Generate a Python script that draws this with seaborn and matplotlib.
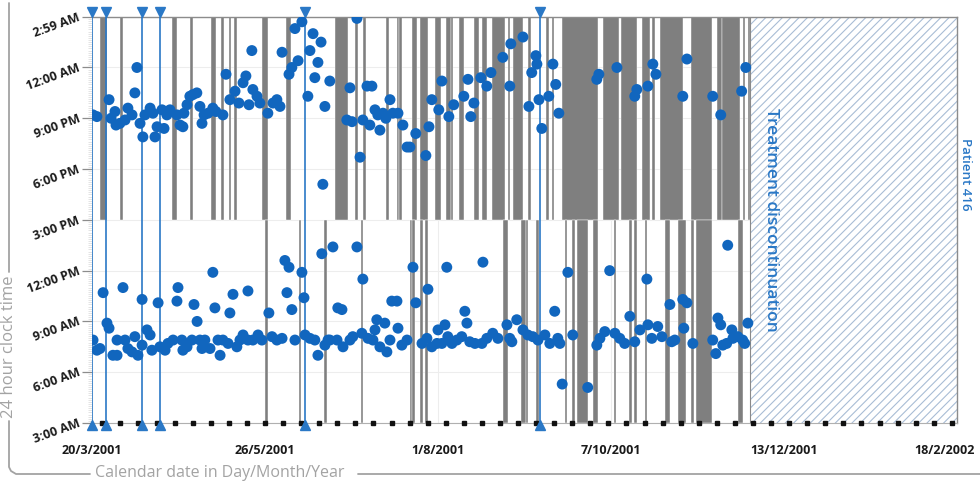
import numpy as np
import pandas as pd
import matplotlib
matplotlib.use("Agg")
import matplotlib.pyplot as plt
import seaborn as sns
from matplotlib.lines import Line2D
from matplotlib.patches import Rectangle
from matplotlib.ticker import MultipleLocator
from matplotlib.transforms import ScaledTranslation

# ---------------- data ----------------
date_ticks = [0, 67, 134, 201, 268, 335]
date_labels = ["20/3/2001", "26/5/2001", "1/8/2001", "7/10/2001", "13/12/2001", "18/2/2002"]
time_ticks = [3, 6, 9, 12, 15, 18, 21, 24, 26.983]
time_labels = ["3:00 AM", "6:00 AM", "9:00 AM", "12:00 PM", "3:00 PM",
               "6:00 PM", "9:00 PM", "12:00 AM", "2:59 AM"]

morning_day = [0.4, 1.9, 3.1, 4.3, 5.8, 6.6, 8.1, 9.7, 9.7, 12.0,
               12.8, 13.9, 15.5, 16.6, 17.8, 19.4, 19.4, 21.3, 22.5, 23.2,
               25.6, 26.3, 28.3, 29.4, 31.4, 32.9, 33.3, 34.8, 35.2, 36.8,
               38.7, 39.5, 40.7, 41.8, 42.6, 43.7, 45.7, 46.8, 47.6, 48.8,
               49.6, 50.7, 52.7, 53.4, 54.6, 56.1, 57.3, 58.5, 60.4, 60.4,
               62.3, 64.3, 65.8, 68.5, 69.7, 71.6, 73.6, 74.7, 75.5, 76.3,
               77.4, 78.6, 81.3, 82.1, 82.5, 84.4, 86.3, 87.5, 89.0, 90.2, 91.4,
               92.1, 93.3, 94.9, 95.2, 96.8, 97.2, 99.9, 101.0, 102.6, 104.5,
               104.9, 106.9, 108.8, 110.3, 109.6, 111.5, 113.4, 114.2, 115.4, 116.1,
               118.1, 118.5, 120.0, 122.0, 124.3, 125.4, 127.8, 129.7, 130.1, 131.6,
               133.6, 134.0, 135.5, 136.7, 137.4, 137.8, 139.4, 141.3, 143.2, 144.4,
               145.2, 146.3, 148.3, 151.0, 151.4, 152.9, 155.2, 157.2, 160.7, 161.8,
               162.6, 164.5, 166.9, 168.8, 170.7, 172.7, 175.4, 177.3, 179.2, 180.4,
               181.2, 182.1, 184.3, 186.2, 192.0, 195.5, 196.7, 198.6, 200.5, 202.5,
               204.4, 206.3, 208.3, 210.2, 212.2, 214.9, 215.3, 216.8, 219.1, 220.7,
               223.8, 224.5, 225.7, 228.8, 229.2, 230.4, 232.7, 240.4, 241.6, 242.4,
               243.5, 244.3, 245.8, 246.2, 247.8, 248.2, 250.1, 252.0, 252.8, 254.0]
morning_time = [7.9, 7.3, 7.4, 10.7, 8.9, 8.6, 7.0, 7.0, 7.9, 11.0,
                7.9, 7.4, 7.2, 8.1, 7.0, 10.3, 7.6, 8.5, 8.2, 7.3,
                10.1, 7.5, 7.3, 7.7, 7.9, 10.2, 11.0, 7.9, 7.3, 7.5,
                7.9, 10.0, 9.0, 7.9, 7.4, 7.9, 7.4, 11.9, 9.8, 7.9,
                7.0, 7.9, 7.7, 9.5, 10.6, 7.5, 7.9, 8.2, 10.8, 7.9,
                7.9, 8.2, 7.9, 9.5, 8.1, 7.9, 8.0, 12.6, 10.7, 12.2,
                9.7, 7.9, 11.9, 10.4, 8.2, 8.0, 7.9, 7.0, 13.0, 7.6, 7.9,
                7.9, 13.4, 7.9, 9.8, 9.7, 7.5, 7.9, 8.1, 13.4, 8.3,
                11.5, 8.0, 7.9, 9.1, 8.5, 7.5, 8.9, 7.2, 7.9, 10.2,
                10.2, 8.6, 7.6, 7.9, 12.2, 10.1, 7.7, 8.0, 10.9, 7.5,
                7.7, 8.5, 7.7, 8.8, 12.2, 8.1, 7.7, 7.9, 8.1, 9.6,
                8.9, 7.8, 7.7, 7.7, 12.5, 8.0, 8.3, 8.0, 8.8, 8.0,
                7.8, 9.1, 8.5, 8.2, 8.1, 7.9, 8.2, 7.7, 9.6, 8.0,
                7.7, 5.3, 11.9, 8.2, 5.1, 7.6, 8.0, 8.4, 12.0, 8.3,
                8.0, 7.7, 9.3, 7.8, 8.5, 11.5, 8.8, 8.0, 8.7, 8.1,
                10.0, 7.8, 7.9, 10.3, 8.6, 10.1, 7.7, 7.9, 7.1, 9.2,
                8.8, 7.6, 7.7, 13.5, 8.5, 8.0, 8.1, 7.9, 7.7, 8.9]

evening_day = [0.4, 1.9, 6.6, 7.4, 8.9, 9.3, 10.8, 12.8, 13.9, 15.5,
               16.6, 17.4, 18.6, 19.7, 20.5, 22.5, 23.6, 24.4, 25.2, 27.1,
               27.9, 29.0, 30.2, 32.9, 34.1, 35.2, 35.6, 36.8, 37.9, 39.1,
               40.6, 41.8, 42.6, 43.4, 44.9, 46.8, 48.0, 50.7, 51.9, 53.4,
               55.4, 56.9, 58.5, 59.6, 60.8, 61.9, 62.3, 63.9, 65.0, 68.1,
               70.1, 71.6, 72.8, 73.6, 76.3, 77.4, 78.6, 79.8, 81.3, 83.6,
               84.4, 85.6, 86.3, 87.5, 88.7, 89.4, 90.2, 92.1,
               98.7, 99.9, 100.7, 102.6, 103.8, 104.9, 106.5, 107.6, 108.4, 109.6,
               110.7, 111.5, 112.7, 113.8, 115.4, 116.5, 118.5, 120.4, 122.0, 123.1,
               125.4, 129.3, 130.5, 131.6, 134.3, 135.5, 138.2, 140.1, 144.0, 145.6,
               146.7, 147.9, 150.6, 152.9, 154.5, 159.1, 161.8, 162.2, 166.9, 169.2,
               170.3, 171.9, 172.3, 173.1, 174.2, 176.9, 178.5, 179.6, 180.8,
               195.5, 196.3, 203.3, 210.2, 211.0, 215.3, 217.2, 218.4, 228.8, 230.4,
               240.4, 243.5, 251.6, 253.2]
evening_time = [21.2, 21.1, 22.1, 21.0, 21.4, 20.6, 20.7, 20.9, 21.6, 21.2,
                22.5, 24.0, 20.7, 19.9, 21.2, 21.6, 21.3, 19.9, 20.5, 21.5,
                20.4, 21.2, 21.5, 21.2, 20.6, 20.5, 21.3, 21.8, 22.3, 22.4,
                22.5, 21.7, 20.7, 21.2, 21.3, 21.6, 21.4, 21.2, 23.6, 22.1,
                22.6, 21.9, 23.1, 23.5, 21.8, 25.0, 22.7, 22.3, 21.9, 21.3,
                21.9, 22.1, 21.7, 24.9, 23.6, 24.0, 26.3, 24.4, 26.7, 22.3,
                25.0, 26.0, 23.4, 24.3, 25.5, 17.1, 21.7, 23.2,
                20.9, 22.8, 20.8, 26.9, 18.7, 20.9, 22.9, 20.6, 22.9, 21.5,
                21.2, 20.3, 21.3, 21.0, 22.1, 21.3, 21.3, 20.6, 19.3, 19.3,
                20.1, 18.8, 20.5, 22.1, 21.5, 23.2, 21.1, 21.8, 22.3, 23.3,
                21.1, 21.9, 23.4, 22.9, 23.7, 24.6, 22.9, 25.4, 25.8, 21.7,
                23.7, 24.7, 24.2, 22.1, 20.4, 22.3, 24.2, 23.0, 21.3,
                23.3, 23.6, 24.0, 22.3, 22.7, 22.9, 24.2, 23.6, 22.3, 24.5,
                22.3, 21.2, 22.6, 24.0]

# missed doses: first day and number of consecutive days
missed_evening_start = [3, 11, 31, 38, 46, 50, 53, 55, 66, 75, 94, 102, 105, 114, 118, 119,
                        124, 127, 133, 137, 139, 142, 148, 151, 155, 161, 163, 169, 176, 178,
                        182, 198, 205, 213, 217, 220, 232, 242, 244, 252, 254]
missed_evening_days = [3, 1, 2, 1, 2, 1, 1, 1, 2, 2, 5, 1, 1, 1, 1, 1,
                       2, 3, 2, 2, 1, 2, 2, 2, 5, 1, 4, 1, 1, 1,
                       14, 6, 6, 3, 1, 9, 8, 2, 7, 1, 1]
missed_morning_start = [67, 80, 90, 104, 123, 124, 127, 129, 159, 166, 168, 172, 183, 186, 188,
                        194, 202, 208, 210, 214, 222, 227, 232, 234, 250]
missed_morning_days = [1, 1, 1, 1, 1, 1, 1, 1, 2, 2, 1, 1, 1, 1, 4,
                       2, 1, 1, 1, 1, 2, 3, 1, 6, 2]

event_days = [0, 5.5, 19.5, 26.5, 82.5, 173.5]
discontinuation_day = 255
end_day = 335
first_week_day = 4

assert len(morning_day) == len(morning_time)
assert len(evening_day) == len(evening_time)
assert len(missed_evening_start) == len(missed_evening_days)
assert len(missed_morning_start) == len(missed_morning_days)

# ---------------- style ----------------
sns.set_style("white")
plt.rcParams["font.family"] = ["Open Sans", "DejaVu Sans"]
plt.rcParams["hatch.linewidth"] = 0.8

W, H = 980, 483
fig = plt.figure(figsize=(W / 100, H / 100), dpi=100)
ax = fig.add_axes([92 / W, 1 - 423 / H, (957 - 92) / W, (423 - 17) / H])

YMIN, YMAX = 3, 26.983
DOT = "#1166be"
BLUE = "#2a78c6"
GRAY = "#7f7f7f"

ax.set_xlim(0, end_day)
ax.set_ylim(YMIN, YMAX)
ax.set_axisbelow(True)
ax.grid(True, color="#ededed", lw=0.8)

# missed-dose bars
ax.bar(missed_evening_start, [YMAX - 15] * len(missed_evening_start), bottom=15,
       width=missed_evening_days, align="edge", color=GRAY, edgecolor="white",
       linewidth=0.3, zorder=2)
ax.bar(missed_morning_start, [15 - YMIN] * len(missed_morning_start), bottom=YMIN,
       width=missed_morning_days, align="edge", color=GRAY, edgecolor="white",
       linewidth=0.3, zorder=2)

# discontinued period
ax.add_patch(Rectangle((discontinuation_day, YMIN), end_day - discontinuation_day, YMAX - YMIN,
                       facecolor="white", edgecolor="#a9bdd5", hatch="////", lw=0, zorder=1.5))
ax.axvline(discontinuation_day, color="#8a8a8a", lw=0.8, zorder=2.5)

# event lines with triangles
for d in event_days:
    ax.axvline(d, color=BLUE, lw=1.2, zorder=3)
ax.plot(event_days, [27.29] * len(event_days), ls="none", marker="v", ms=7,
        color=BLUE, clip_on=False, zorder=6)
ax.plot(event_days, [2.86] * len(event_days), ls="none", marker="^", ms=7,
        color=BLUE, clip_on=False, zorder=6)

# weekly markers on the date axis
week_days = np.arange(first_week_day, end_day + 1, 7)
ax.plot(week_days, [YMIN] * len(week_days), ls="none", marker="s", ms=3.2,
        color="#111111", clip_on=False, zorder=5)

# dose times
doses = pd.DataFrame({
    "day": morning_day + evening_day,
    "time": morning_time + evening_time,
})
sns.scatterplot(data=doses, x="day", y="time", color=DOT, s=62, edgecolor="none",
                linewidth=0, ax=ax, zorder=4, legend=False)

# axes appearance
ax.set_xlabel("")
ax.set_ylabel("")
for side in ["top", "right"]:
    ax.spines[side].set_color("#8c8c8c")
    ax.spines[side].set_linewidth(1.0)
ax.spines["bottom"].set_color("#b0b0b0")
ax.spines["bottom"].set_linewidth(0.8)
ax.spines["left"].set_visible(False)

ax.set_xticks(date_ticks)
ax.set_xticklabels(date_labels, fontsize=9, fontweight="bold", color="#1a1a1a")
ax.tick_params(axis="x", direction="out", length=6, width=0.8, color="#9a9a9a", pad=9)
last = ax.get_xticklabels()[-1]
last.set_transform(last.get_transform() + ScaledTranslation(-0.13, 0, fig.dpi_scale_trans))

ax.set_yticks(time_ticks)
ax.set_yticklabels(time_labels, fontsize=9, fontweight="bold", color="#1a1a1a")
ax.tick_params(axis="y", which="major", direction="out", length=7, width=0.9,
               color="#8c8c8c", pad=2, left=True)
ax.yaxis.set_minor_locator(MultipleLocator(0.125))
ax.tick_params(axis="y", which="minor", direction="out", length=3, width=0.4,
               color="#cfcfcf", left=True)
for lab in ax.get_yticklabels():
    lab.set_rotation(20)
    lab.set_ha("right")
    lab.set_va("center")
    lab.set_rotation_mode("anchor")

# annotations
ax.text(263, 15, "Treatment discontinuation", rotation=270, color=BLUE,
        fontsize=12.5, fontweight="semibold", ha="center", va="center", zorder=7)
fig.text(965 / W, 1 - 174 / H, "Patient 416", rotation=270, color=BLUE,
         fontsize=9.5, fontweight="semibold", ha="center", va="center")

# framing lines and axis titles
LG = "#a3a3a3"
def fline(xs, ys):
    fig.add_artist(Line2D([x / W for x in xs], [1 - y / H for y in ys],
                          color=LG, lw=1.3, transform=fig.transFigure))

fline([9, 9], [3, 272])
fline([9, 9, 11, 16, 90], [421, 467, 471, 474, 474])
fline([358, 980], [474, 474])
fig.text(9 / W, 1 - 347 / H, "24 hour clock time", rotation=90, color=LG,
         fontsize=12, ha="center", va="center")
fig.text(95 / W, 1 - 473 / H, "Calendar date in Day/Month/Year", color=LG,
         fontsize=11.5, ha="left", va="center")

fig.savefig("out.png", dpi=100)
